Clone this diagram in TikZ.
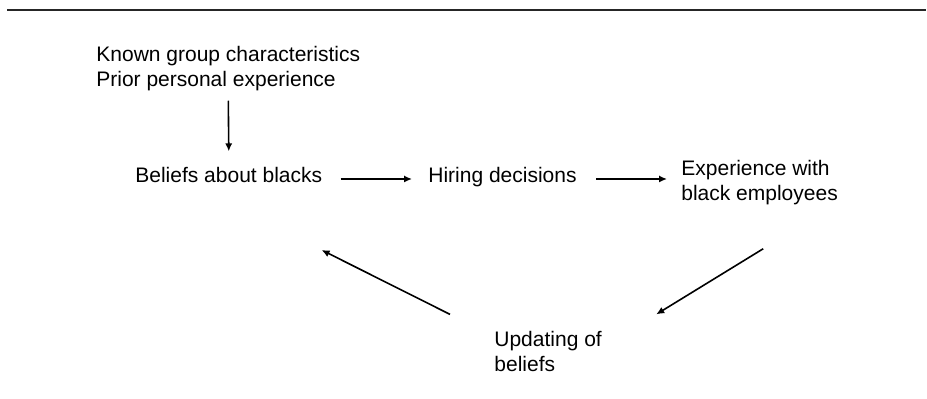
\documentclass[tikz,border=0pt]{standalone}
\usepackage{fontspec}
\setmainfont{Liberation Sans}
\usetikzlibrary{positioning,arrows.meta}

\begin{document}
\begin{tikzpicture}[x=0.5pt, y=-0.5pt,
    every node/.style={inner sep=0pt, align=left, font=\fontsize{10.5}{12.5}\selectfont},
    flow/.style={-{Latex[length=4pt,width=3.6pt]}, line width=0.8pt}]
            \useasboundingbox (0,0) rectangle (927,399);

            % rule across the top
            \draw[line width=1.3pt, black!85] (7,10) -- (926,10);

            % the boxes of text
            \node (known) [anchor=base west] at (96,87) {Known group characteristics\\Prior personal experience};
            \node (belief) [anchor=base west] at (135,183) {Beliefs about blacks};
            \node (hiring) [anchor=base west] at (428,183) {Hiring decisions};
            \node (exper) [anchor=base west] at (681,201) {Experience with\\black employees};
            \node (update) [anchor=base west] at (494,372) {Updating of\\beliefs};

            % Connect them
            \draw[flow] ([shift={(0,9)}]known.south) -- ([shift={(0,-16)}]belief.north);
            \draw[flow] ([shift={(18,-4)}]belief.base east) -- ([shift={(-16,-4)}]hiring.base west);
            \draw[flow] ([shift={(19,-4)}]hiring.base east) -- ([shift={(-14,-22)}]exper.base west);
            \draw[flow] ([shift={(-75,43)}]exper.south east) -- ([shift={(54,-17)}]update.north east);
            \draw[flow] ([shift={(-44,-17)}]update.north west) -- ([shift={(-1,67)}]belief.base east);

        \end{tikzpicture}
\end{document}
